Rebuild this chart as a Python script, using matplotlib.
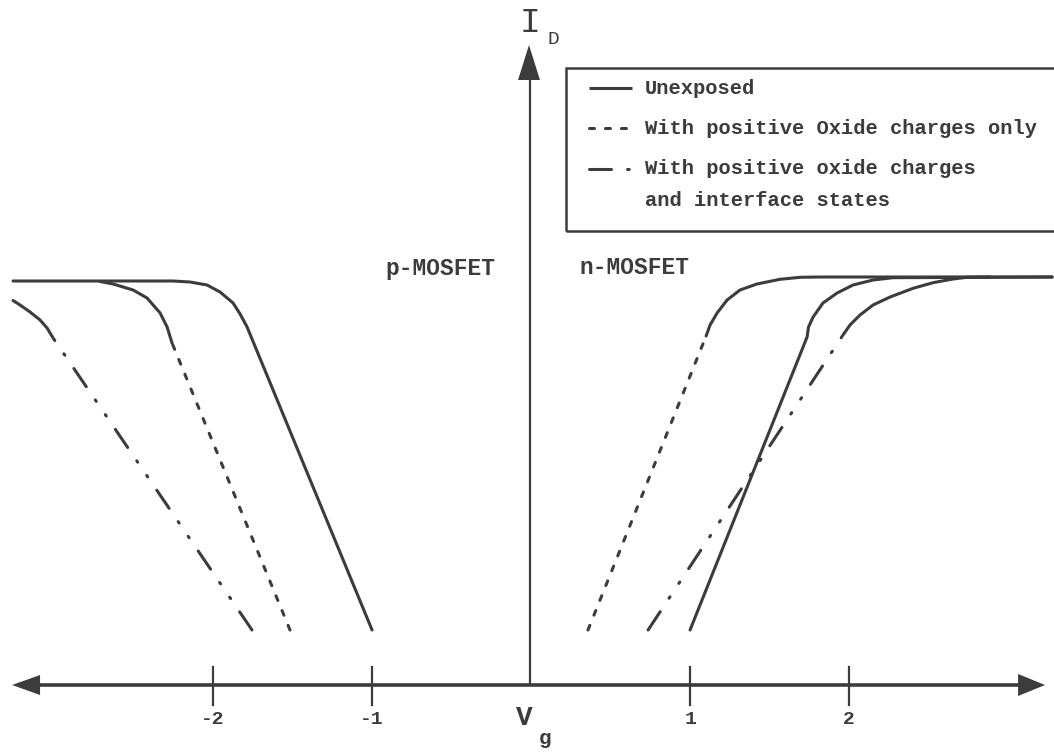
import matplotlib
matplotlib.use("Agg")
import matplotlib.pyplot as plt
from matplotlib.patches import Polygon, Rectangle

plt.rcParams['lines.scale_dashes'] = False

# ---------------- data (V_g in volts, I_D in arbitrary units) ----------------
# p-MOSFET curves (first two points = linear region, rest = knee / plateau)
p_unexp_vg = [-1.000, -1.786, -1.830, -1.874, -1.956, -2.038, -2.145, -2.252, -3.258]
p_unexp_id = [0.55, 3.58, 3.71, 3.82, 3.93, 4.00, 4.03, 4.04, 4.04]

p_oxide_vg = [-1.516, -2.258, -2.289, -2.333, -2.415, -2.503, -2.629, -2.711]
p_oxide_id = [0.55, 3.42, 3.58, 3.72, 3.87, 3.95, 4.01, 4.035]

p_intf_vg = [-1.755, -3.006, -3.044, -3.088, -3.151, -3.214, -3.258]
p_intf_id = [0.55, 3.47, 3.57, 3.65, 3.73, 3.80, 3.845]

# n-MOSFET curves
n_unexp_vg = [1.000, 1.736, 1.745, 1.774, 1.836, 1.925, 2.025, 2.151, 2.277, 3.277]
n_unexp_id = [0.55, 3.48, 3.58, 3.68, 3.82, 3.92, 4.00, 4.05, 4.073, 4.08]

n_oxide_vg = [0.358, 1.101, 1.126, 1.170, 1.233, 1.314, 1.421, 1.566, 1.692, 1.818, 3.277]
n_oxide_id = [0.55, 3.49, 3.60, 3.72, 3.85, 3.95, 4.01, 4.057, 4.077, 4.08, 4.08]

n_intf_vg = [0.736, 1.962, 2.006, 2.069, 2.151, 2.258, 2.403, 2.528, 2.654, 2.742, 2.887]
n_intf_id = [0.55, 3.50, 3.60, 3.70, 3.80, 3.88, 3.967, 4.023, 4.06, 4.077, 4.08]

tick_vals = [-2, -1, 1, 2]
tick_labels = ['-2', '-1', '1', '2']

legend_labels = ['Unexposed',
                 'With positive Oxide charges only',
                 'With positive oxide charges',
                 'and interface states']

# ---------------- styling ----------------
C = '#3c3c3c'
LW = 2.2
FONT = 'Liberation Mono'
DASHED = (0, (3.6, 7.9))
DASHDOTDOT = (0, (15.8, 11.6, 1.2, 11.6, 1.2, 11.6))

fig = plt.figure(figsize=(10.54, 7.52), dpi=100)
ax = fig.add_axes([0, 0, 1, 1])
ax.set_xlim(-3.340, 3.289)
ax.set_ylim(-0.67, 6.85)
ax.axis('off')


def draw_curve(vg, idv, style):
    kw = dict(color=C, lw=LW, solid_capstyle='round', dash_capstyle='round',
              solid_joinstyle='round')
    if style == 'solid':
        ax.plot(vg, idv, ls='-', **kw)
    else:
        ax.plot(vg[:2], idv[:2], ls=style, **kw)
        ax.plot(vg[1:], idv[1:], ls='-', **kw)


draw_curve(p_unexp_vg, p_unexp_id, 'solid')
draw_curve(p_oxide_vg, p_oxide_id, DASHED)
draw_curve(p_intf_vg, p_intf_id, DASHDOTDOT)
draw_curve(n_unexp_vg, n_unexp_id, 'solid')
draw_curve(n_oxide_vg, n_oxide_id, DASHED)
draw_curve(n_intf_vg, n_intf_id, DASHDOTDOT)

# ---------------- axes with arrows ----------------
ax.plot([-3.10, 3.07], [0, 0], color=C, lw=2.6, solid_capstyle='butt')
ax.add_patch(Polygon([[-3.264, 0.0], [-3.088, 0.10], [-3.088, -0.10]],
                     closed=True, color=C, lw=0))
ax.add_patch(Polygon([[3.233, 0.0], [3.063, 0.11], [3.063, -0.11]],
                     closed=True, color=C, lw=0))

ax.plot([-0.006, -0.006], [0, 6.06], color=C, lw=1.6, solid_capstyle='butt')
ax.add_patch(Polygon([[-0.013, 6.40], [-0.082, 6.05], [0.056, 6.05]],
                     closed=True, color=C, lw=0))

for v, lab in zip(tick_vals, tick_labels):
    ax.plot([v, v], [-0.20, 0.18], color=C, lw=1.6)
    ax.text(v, -0.34, lab, ha='center', va='center', fontsize=14,
            fontweight='bold', family=FONT, color=C)

# axis labels
ax.text(-0.045, -0.33, 'V', ha='center', va='center', fontsize=20,
        fontweight='bold', family=FONT, color=C)
ax.text(0.085, -0.53, 'g', ha='center', va='center', fontsize=15,
        fontweight='bold', family=FONT, color=C)
ax.text(-0.006, 6.62, 'I', ha='center', va='center', fontsize=25,
        family=FONT, color=C)
ax.text(0.138, 6.46, 'D', ha='center', va='center', fontsize=14,
        family=FONT, color=C)

ax.text(-0.57, 4.17, 'p-MOSFET', ha='center', va='center', fontsize=16.5,
        fontweight='bold', family=FONT, color=C)
ax.text(0.65, 4.17, 'n-MOSFET', ha='center', va='center', fontsize=16.5,
        fontweight='bold', family=FONT, color=C)

# ---------------- legend box ----------------
x0 = (566 - 531) / 159
ax.add_patch(Rectangle((x0, (685 - 231) / 100), 3.5, (231 - 68) / 100,
                       fill=False, edgecolor=C, lw=1.8))
row_y = [(685 - 88) / 100, (685 - 128) / 100, (685 - 169) / 100, (685 - 200) / 100]
styles = ['-', DASHED, DASHDOTDOT, None]
lx0, lx1 = (589 - 531) / 159, (632 - 531) / 159
for y, st, lab in zip(row_y, styles, legend_labels):
    if st is not None:
        ax.plot([lx0, lx1], [y, y], color=C, lw=LW, ls=st,
                dash_capstyle='round', solid_capstyle='butt')
    ax.text((645 - 531) / 159, y, lab, ha='left', va='center',
            fontsize=14.8, fontweight='bold', family=FONT, color=C)

fig.savefig('out.png', dpi=100, facecolor='white')
